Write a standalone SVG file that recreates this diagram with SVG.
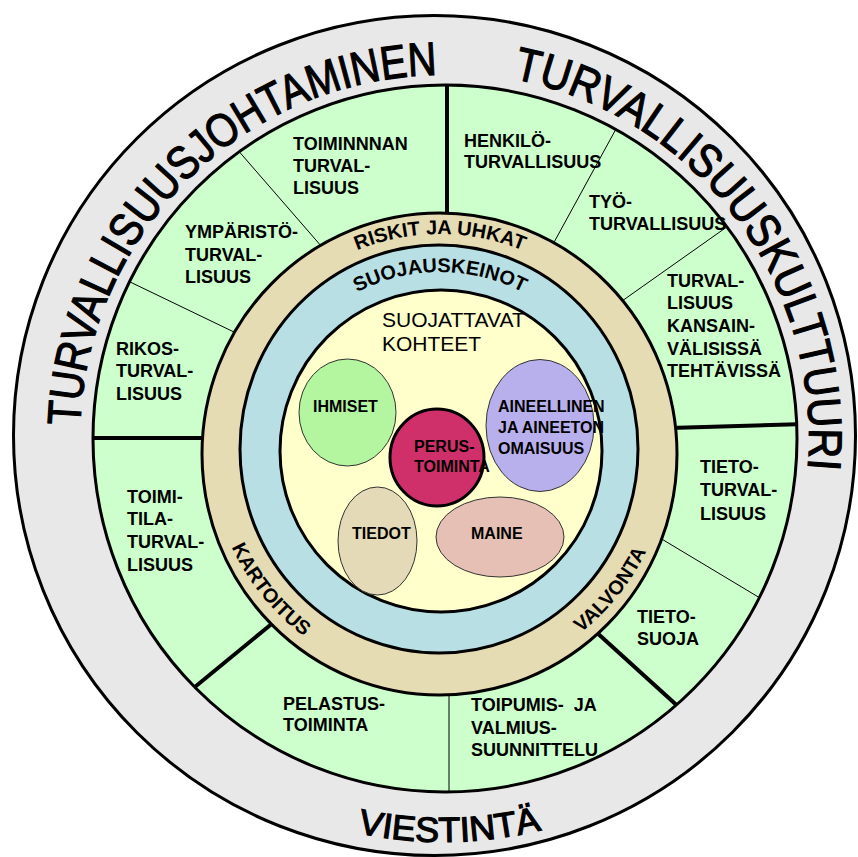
<svg xmlns="http://www.w3.org/2000/svg" width="858" height="857" viewBox="0 0 858 857">
<style>
.rg{stroke:#000;stroke-width:3}
.lbl{font-family:"Liberation Sans",Arial,sans-serif;font-weight:bold;font-size:18px;fill:#000}
.nl{font-family:"Liberation Sans",Arial,sans-serif;font-weight:bold;font-size:16px;fill:#000}
.rt{font-family:"Liberation Sans",Arial,sans-serif;font-weight:bold;font-size:20px;fill:#000}
.ot{font-family:"Liberation Sans",Arial,sans-serif;font-size:47px;fill:#000;stroke:#000;stroke-width:1.2}
.thick{stroke:#000;stroke-width:4;fill:none}
.thin{stroke:#000;stroke-width:1;fill:none}
.ell{stroke:#333;stroke-width:1}
</style>
<defs>
<clipPath id="gclip"><ellipse cx="445" cy="438.5" rx="352" ry="353.5"/></clipPath>
<path id="pOutTop" d="M 80 438 A 363 363 0 0 1 806 438 A 363 363 0 0 1 80 438"/>
<path id="pOutR" d="M 77 438 A 366 366 0 0 1 809 438 A 366 366 0 0 1 77 438"/>
<path id="pOutBot" d="M 39 438 A 404 404 0 0 0 847 438"/>
<path id="pRisk" d="M 222 452 A 218 218 0 0 1 658 452"/>
<path id="pSuoj" d="M 260 452 A 180 180 0 0 1 620 452"/>
<path id="pBot" d="M 211 452 A 229 229 0 0 0 669 452"/>
</defs>

<g id="rings">
<ellipse cx="434.5" cy="435.5" rx="421" ry="420" fill="#e8e8e8" class="rg"/>
<ellipse cx="445" cy="438.5" rx="352" ry="353.5" fill="#ccffcc"/>
</g>

<g id="connectors" clip-path="url(#gclip)">
<line x1="447" y1="80" x2="447" y2="220" class="thick"/>
<line x1="88" y1="438" x2="210" y2="438" class="thick"/>
<line x1="670" y1="428" x2="805" y2="424" class="thick"/>
<line x1="274" y1="622" x2="190" y2="691" class="thick"/>
<line x1="595" y1="631" x2="682" y2="710" class="thick"/>
<line x1="236" y1="148" x2="322" y2="247" class="thin"/>
<line x1="126" y1="280" x2="236" y2="333" class="thin"/>
<line x1="616" y1="129" x2="552" y2="246" class="thin"/>
<line x1="731" y1="224" x2="622" y2="301" class="thin"/>
<line x1="660" y1="538" x2="765" y2="601" class="thin"/>
<line x1="449" y1="690" x2="449" y2="797" class="thin"/>
</g>

<g id="rings-inner">
<ellipse cx="445" cy="438.5" rx="352" ry="353.5" fill="none" class="rg"/>
<ellipse cx="439.5" cy="454" rx="237.5" ry="241" fill="#e6dcb4" class="rg"/>
<ellipse cx="439" cy="449" rx="199" ry="204" fill="#b8e0e4" class="rg"/>
<ellipse cx="441" cy="451" rx="161" ry="161" fill="#ffffcc" class="rg"/>
</g>

<g id="outer-texts">
<text class="ot"><textPath href="#pOutTop" startOffset="12" textLength="552" lengthAdjust="spacingAndGlyphs">TURVALLISUUSJOHTAMINEN</textPath></text>
<text class="ot"><textPath href="#pOutR" startOffset="645" textLength="536" lengthAdjust="spacingAndGlyphs">TURVALLISUUSKULTTUURI</textPath></text>
<text class="ot" style="font-size:35px"><textPath href="#pOutBot" startOffset="548" textLength="186" lengthAdjust="spacingAndGlyphs">VIESTINTÄ</textPath></text>
</g>

<g id="ring-texts">
<text class="rt" text-anchor="middle"><textPath href="#pRisk" startOffset="50%">RISKIT JA UHKAT</textPath></text>
<text class="rt" text-anchor="middle"><textPath href="#pSuoj" startOffset="50%">SUOJAUSKEINOT</textPath></text>
<text class="rt" text-anchor="middle"><textPath href="#pBot" startOffset="21.7%">KARTOITUS</textPath></text>
<text class="rt" text-anchor="middle"><textPath href="#pBot" startOffset="78.4%">VALVONTA</textPath></text>
</g>

<g id="s-toiminnan"><text class="lbl"><tspan x="293" y="150">TOIMINNNAN</tspan><tspan x="293" y="172">TURVAL-</tspan><tspan x="293" y="194">LISUUS</tspan></text></g>
<g id="s-ymparisto"><text class="lbl"><tspan x="185" y="238">YMPÄRISTÖ-</tspan><tspan x="185" y="261">TURVAL-</tspan><tspan x="185" y="283">LISUUS</tspan></text></g>
<g id="s-rikos"><text class="lbl"><tspan x="116" y="355">RIKOS-</tspan><tspan x="116" y="377">TURVAL-</tspan><tspan x="116" y="400">LISUUS</tspan></text></g>
<g id="s-toimitila"><text class="lbl"><tspan x="127" y="503">TOIMI-</tspan><tspan x="127" y="525">TILA-</tspan><tspan x="127" y="548">TURVAL-</tspan><tspan x="127" y="571">LISUUS</tspan></text></g>
<g id="s-pelastus"><text class="lbl"><tspan x="283" y="710">PELASTUS-</tspan><tspan x="283" y="731">TOIMINTA</tspan></text></g>
<g id="s-toipumis"><text class="lbl" style="white-space:pre"><tspan x="471" y="711">TOIPUMIS-  JA</tspan><tspan x="471" y="734">VALMIUS-</tspan><tspan x="471" y="756">SUUNNITTELU</tspan></text></g>
<g id="s-tietosuoja"><text class="lbl"><tspan x="637" y="623">TIETO-</tspan><tspan x="637" y="645">SUOJA</tspan></text></g>
<g id="s-tietoturva"><text class="lbl"><tspan x="700" y="473">TIETO-</tspan><tspan x="700" y="496">TURVAL-</tspan><tspan x="700" y="520">LISUUS</tspan></text></g>
<g id="s-kansain"><text class="lbl"><tspan x="667" y="287">TURVAL-</tspan><tspan x="667" y="309">LISUUS</tspan><tspan x="667" y="332">KANSAIN-</tspan><tspan x="667" y="355">VÄLISISSÄ</tspan><tspan x="667" y="377">TEHTÄVISSÄ</tspan></text></g>
<g id="s-tyo"><text class="lbl"><tspan x="589" y="208">TYÖ-</tspan><tspan x="589" y="230">TURVALLISUUS</tspan></text></g>
<g id="s-henkilo"><text class="lbl"><tspan x="464" y="147">HENKILÖ-</tspan><tspan x="464" y="168">TURVALLISUUS</tspan></text></g>

<g id="n-suojattavat"><text style="font-family:'Liberation Sans',Arial,sans-serif;font-size:21px;fill:#000"><tspan x="382" y="327">SUOJATTAVAT</tspan><tspan x="382" y="351">KOHTEET</tspan></text></g>
<g id="n-ihmiset"><ellipse cx="347.5" cy="412.5" rx="48.5" ry="53.5" fill="#b4f5a0" class="ell"/><text class="nl" x="313" y="412">IHMISET</text></g>
<g id="n-aineellinen"><ellipse cx="540" cy="425.5" rx="54" ry="66" fill="#b8b0ec" class="ell"/><text class="nl"><tspan x="498" y="412">AINEELLINEN</tspan><tspan x="498" y="433">JA AINEETON</tspan><tspan x="498" y="454">OMAISUUS</tspan></text></g>
<g id="n-tiedot"><ellipse cx="377.5" cy="541" rx="39.5" ry="54" fill="#e4dab8" class="ell"/><text class="nl" x="352" y="539">TIEDOT</text></g>
<g id="n-maine"><ellipse cx="500" cy="537" rx="64" ry="40" fill="#e6c0b4" class="ell"/><text class="nl" x="471" y="539">MAINE</text></g>
<g id="n-perus"><ellipse cx="437" cy="457.5" rx="47" ry="48.5" fill="#d0306a" stroke="#000" stroke-width="3"/><text class="nl"><tspan x="414" y="452">PERUS-</tspan><tspan x="414" y="472">TOIMINTA</tspan></text></g>
</svg>
